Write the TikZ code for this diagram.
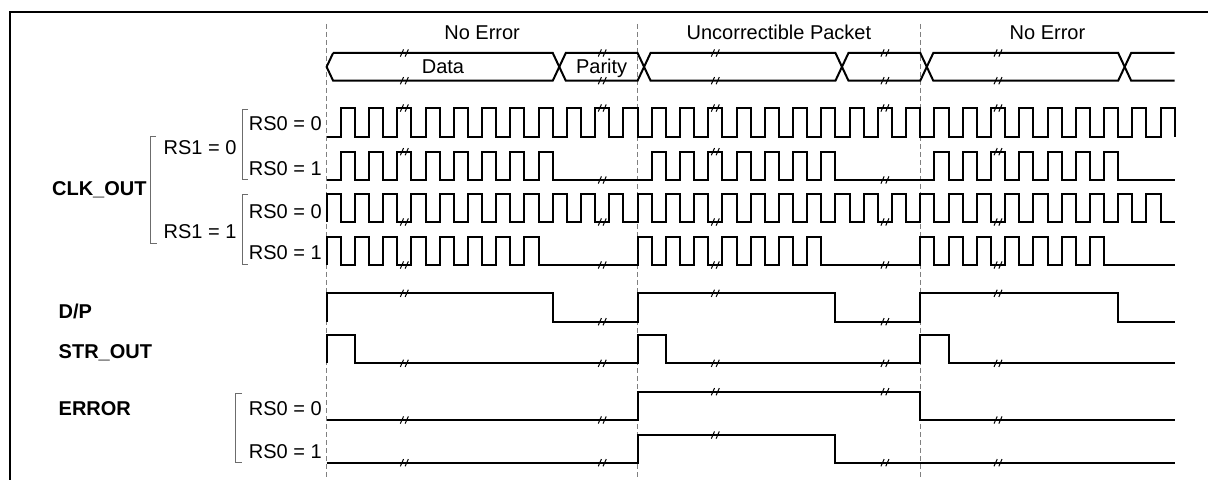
\documentclass[tikz,border=0pt]{standalone}
\usepackage{fontspec}
\setmainfont{Liberation Sans}
\begin{document}
\begin{tikzpicture}[x=0.5pt,y=-0.5pt]
\tikzset{sig/.style={line width=1pt, line join=miter},
  guide/.style={gray, line width=0.5pt, dash pattern=on 2.5pt off 1.5pt},
  bracket/.style={gray!85!black, line width=0.5pt},
  lbl/.style={anchor=base west, inner sep=0pt, font=\fontsize{10}{12}\selectfont},
  signame/.style={lbl, font=\fontsize{10}{12}\selectfont\bfseries},
  hdr/.style={anchor=base, inner sep=0pt, font=\fontsize{10}{12}\selectfont},
  brk/.pic={\draw[line width=0.5pt] (-2pt,-1.8pt) -- (-0.4pt,1.8pt) (0.4pt,-1.8pt) -- (2pt,1.8pt);}}
\useasboundingbox (0,0) rectangle (1208,480);
\draw[line width=1pt] (1208,12) -- (10,12) -- (10,480);
\node[signame] (N1) at (51.7,196) {CLK\_OUT};
\node[signame] (N2) at (58.3,318.3) {D/P};
\node[signame] (N3) at (58.3,358.3) {STR\_OUT};
\node[signame] (N4) at (58.3,415) {ERROR};
\node[lbl] (R10) at (163.3,155) {RS1 = 0};
\node[lbl] (R11) at (163.3,238.3) {RS1 = 1};
\node[lbl] (R1) at (248.5,130.7) {RS0 = 0};
\node[lbl] (R2) at (248.5,176) {RS0 = 1};
\node[lbl] (R3) at (248.5,218.3) {RS0 = 0};
\node[lbl] (R4) at (248.5,260) {RS0 = 1};
\node[lbl] (R5) at (248.5,415) {RS0 = 0};
\node[lbl] (R6) at (248.5,458.3) {RS0 = 1};
\draw[bracket] (156,137) -- (150,137) -- (150,243.3) -- (157,243.3);
\draw[bracket] (248,110) -- (242,110) -- (242,179.3) -- (248,179.3);
\draw[bracket] (248,194.3) -- (242,194.3) -- (242,265) -- (248,265);
\draw[bracket] (242,393.3) -- (235.3,393.3) -- (235.3,462.7) -- (242,462.7);
\begin{scope}[xshift=163.3pt, x=7.0675pt]
\foreach \t in {0,22,42} \draw[guide] (\t,24) -- (\t,480);
\node[hdr] (H1) at (11,40) {No Error};
\node[hdr] (H2) at (32,40) {Uncorrectible Packet};
\node[hdr] (H3) at (51,40) {No Error};
\node[hdr] (D1) at (8.23,74) {Data};
\node[hdr] (D2) at (19.46,74) {Parity};
\draw[sig] (0.46,53) -- (0,66.85) -- (0.46,80.7) -- (16,80.7) -- (16.92,53) -- (22,53) -- (22.92,80.7) -- (36,80.7) -- (36.92,53) -- (42,53) -- (42.92,80.7) -- (56,80.7) -- (56.92,53) -- (60,53);
\draw[sig] (0.46,53) -- (16,53) -- (16.92,80.7) -- (22,80.7) -- (22.92,53) -- (36,53) -- (36.92,80.7) -- (42,80.7) -- (42.92,53) -- (56,53) -- (56.92,80.7) -- (60,80.7);
\draw[sig] (0,137) foreach \k in {0,...,29} {-- (2*\k+1,137) -- (2*\k+1,108) -- (2*\k+2,108) -- (2*\k+2,137)};
\draw[sig] (0,180) foreach \k in {0,...,7} {-- (2*\k+1,180) -- (2*\k+1,151.7) -- (2*\k+2,151.7) -- (2*\k+2,180)} -- (22,180)
  foreach \k in {11,...,17} {-- (2*\k+1,180) -- (2*\k+1,151.7) -- (2*\k+2,151.7) -- (2*\k+2,180)} -- (42,180)
  foreach \k in {21,...,27} {-- (2*\k+1,180) -- (2*\k+1,151.7) -- (2*\k+2,151.7) -- (2*\k+2,180)} -- (60,180);
\draw[sig] (0,222) foreach \k in {0,...,29} {-- (2*\k,194.3) -- (2*\k+1,194.3) -- (2*\k+1,222) -- (2*\k+2,222)};
\draw[sig] (0,265) foreach \k in {0,...,7} {-- (2*\k,236.7) -- (2*\k+1,236.7) -- (2*\k+1,265) -- (2*\k+2,265)} -- (22,265)
  foreach \k in {11,...,17} {-- (2*\k,236.7) -- (2*\k+1,236.7) -- (2*\k+1,265) -- (2*\k+2,265)} -- (42,265)
  foreach \k in {21,...,27} {-- (2*\k,236.7) -- (2*\k+1,236.7) -- (2*\k+1,265) -- (2*\k+2,265)} -- (60,265);
\draw[sig] (0,321.7) -- (0,293.3) -- (16,293.3) -- (16,321.7) -- (22,321.7) -- (22,293.3) -- (36,293.3) -- (36,321.7) -- (42,321.7) -- (42,293.3) -- (56,293.3) -- (56,321.7) -- (60,321.7);
\draw[sig] (0,363.3) -- (0,335) -- (2,335) -- (2,363.3) -- (22,363.3) -- (22,335) -- (24,335) -- (24,363.3) -- (42,363.3) -- (42,335) -- (44,335) -- (44,363.3) -- (60,363.3);
\draw[sig] (0,420) -- (22,420) -- (22,391.7) -- (42,391.7) -- (42,420) -- (60,420);
\draw[sig] (0,462.7) -- (22,462.7) -- (22,435) -- (36,435) -- (36,462.7) -- (60,462.7);
\foreach \y in {53,80.7,108,222,265,363.3}
  \foreach \x in {5.5,19.5,27.5,39.5,47.5} \pic at (\x,\y) {brk};
\foreach \x/\y in {5.5/151.7,19.5/180,27.5/151.7,39.5/180,47.5/151.7,
  5.5/293.3,19.5/321.7,27.5/293.3,39.5/321.7,47.5/293.3,
  5.5/420,19.5/420,27.5/391.7,39.5/391.7,47.5/420,
  5.5/462.7,19.5/462.7,27.5/435,39.5/462.7,47.5/462.7} \pic at (\x,\y) {brk};
\end{scope}
\end{tikzpicture}
\end{document}
